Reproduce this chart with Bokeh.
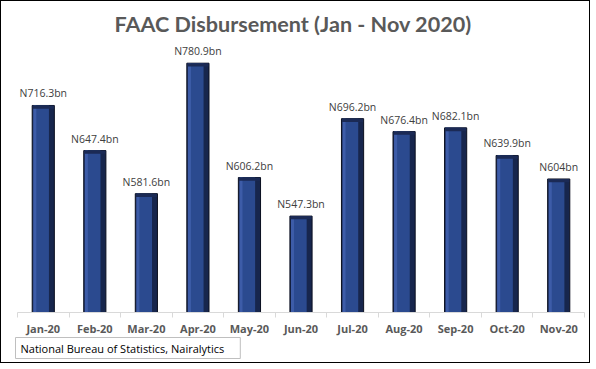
from bokeh.plotting import figure
from bokeh.models import ColumnDataSource, Range1d, FixedTicker, LabelSet, Title
from bokeh.core.properties import value
from bokeh.transform import dodge
from bokeh.embed import file_html
from bokeh.resources import INLINE

months = ["Jan-20", "Feb-20", "Mar-20", "Apr-20", "May-20", "Jun-20",
          "Jul-20", "Aug-20", "Sep-20", "Oct-20", "Nov-20"]
values = [716.3, 647.4, 581.6, 780.9, 606.2, 547.3, 696.2, 676.4, 682.1, 639.9, 604.0]
labels = ["N716.3bn", "N647.4bn", "N581.6bn", "N780.9bn", "N606.2bn", "N547.3bn",
          "N696.2bn", "N676.4bn", "N682.1bn", "N639.9bn", "N604bn"]
title_text = "FAAC Disbursement (Jan - Nov 2020)"
source_text = "National Bureau of Statistics, Nairalytics"
y_min, y_max = 400, 811

idx = list(range(len(months)))
src = ColumnDataSource(dict(x=idx, top=values, lab=labels))

p = figure(width=590, height=363, output_backend="svg", toolbar_location=None,
           x_range=Range1d(-0.5, len(months) - 0.5), y_range=Range1d(y_min, y_max),
           min_border_left=16, min_border_right=7, min_border_top=8, min_border_bottom=52)
p.styles = {"border": "1px solid #000000"}

p.title.text = title_text
p.title.align = "left"
p.title.offset = 97
p.title.text_font = "Lato"
p.title.text_font_size = "21.6px"
p.title.text_font_style = "bold"
p.title.text_color = "#595959"
p.title.standoff = 14

p.outline_line_color = None
p.xgrid.visible = False
p.ygrid.visible = False
p.yaxis.visible = False
p.background_fill_color = "white"
p.border_fill_color = "white"

# outer bar (dark)
p.vbar(x="x", top="top", bottom=y_min, width=0.43, source=src,
       fill_color="#17264d", line_color="#0a0f1f", line_width=1)
# main face
p.vbar(x=dodge("x", -0.035, range=p.x_range), top="top", bottom=y_min, width=0.29, source=src,
       fill_color="#2b4a8f", line_color=None)
# light left edge
p.vbar(x=dodge("x", -0.165, range=p.x_range), top="top", bottom=y_min, width=0.06, source=src,
       fill_color="#3d5ca8", line_color=None)
# top bevel
p.vbar(x="x", top="top", bottom=dodge("top", -5), width=0.41, source=src,
       fill_color="#1b2a55", line_color=None)

p.add_layout(LabelSet(x="x", y="top", text="lab", source=src, y_offset=5,
                      text_align="center", text_baseline="bottom",
                      text_font=value("Open Sans"), text_font_size="10.5px",
                      text_color="#404040"))

ax = p.xaxis[0]
ax.ticker = FixedTicker(ticks=idx, minor_ticks=[i - 0.5 for i in range(len(months) + 1)])
ax.major_label_overrides = {i: m for i, m in zip(idx, months)}
ax.major_tick_out = 0
ax.major_tick_in = 0
ax.minor_tick_out = 5
ax.minor_tick_in = 0
ax.minor_tick_line_color = "#d9d9d9"
ax.axis_line_color = "#d9d9d9"
ax.major_label_text_font = "Open Sans"
ax.major_label_text_font_style = "bold"
ax.major_label_text_font_size = "11px"
ax.major_label_text_color = "#595959"
ax.major_label_standoff = 3

p.add_layout(Title(text=source_text, align="left", offset=-2, standoff=-6,
                   text_font="Open Sans", text_font_size="11px", text_color="#000000",
                   text_font_style="normal",
                   border_line_color="#bfbfbf", border_line_width=1,
                   background_fill_color="white",
                   padding=dict(left=5, right=16, top=3, bottom=3)), "below")

open("out.html", "w").write(file_html(p, INLINE))
